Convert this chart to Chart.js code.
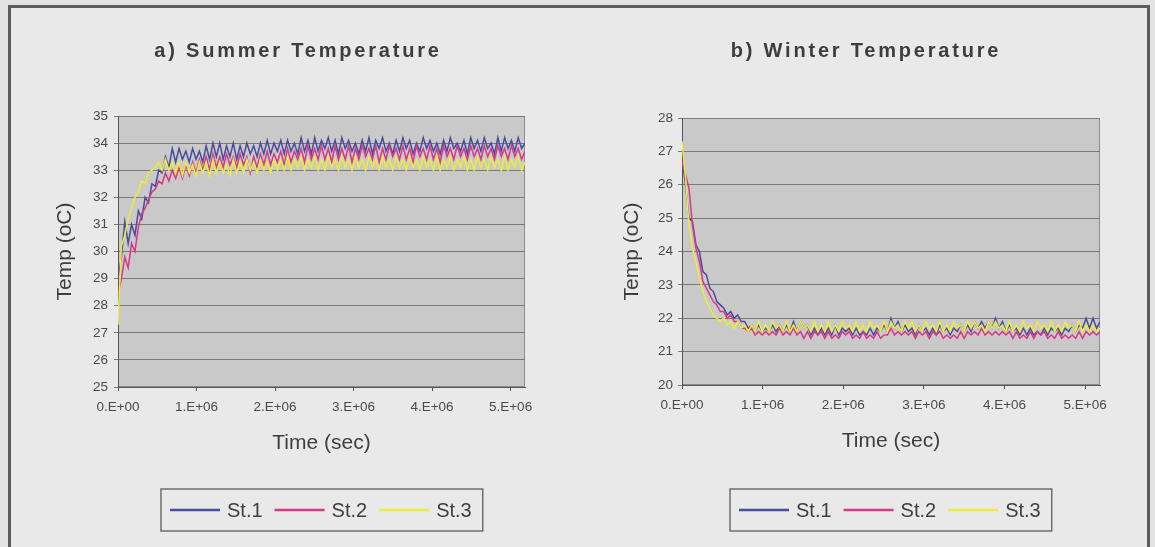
<!DOCTYPE html>
<html>
<head>
<meta charset="utf-8">
<script src="https://cdn.jsdelivr.net/npm/chart.js@4.4.1/dist/chart.umd.min.js"></script>
<style>
  html, body { margin: 0; padding: 0; background: #e3e3e3; }
  body { width: 1155px; height: 547px; position: relative; overflow: hidden; }
  .frame { position: absolute; left: 8px; top: 5px; width: 1136px; height: 600px; border: 3px solid #5c5c5c; background: #e9e9e9; }
  canvas { position: absolute; top: 10px; }
  #summerChart { left: 12px; }
  #winterChart { left: 590px; }
</style>
</head>
<body>
<div class="frame"></div>
<canvas id="summerChart" width="572" height="535"></canvas>
<canvas id="winterChart" width="556" height="535"></canvas>
<script>
// station names and colours
const seriesNames = ['St.1', 'St.2', 'St.3'];
const seriesColors = ['#4b4b9e', '#d8388a', '#ecec3c'];

// sample times (sec), twice a day
const timeSec = [0, 43200, 86400, 129600, 172800, 216000, 259200, 302400, 345600, 388800,
  432000, 475200, 518400, 561600, 604800, 648000, 691200, 734400, 777600, 820800,
  864000, 907200, 950400, 993600, 1036800, 1080000, 1123200, 1166400, 1209600, 1252800,
  1296000, 1339200, 1382400, 1425600, 1468800, 1512000, 1555200, 1598400, 1641600, 1684800,
  1728000, 1771200, 1814400, 1857600, 1900800, 1944000, 1987200, 2030400, 2073600, 2116800,
  2160000, 2203200, 2246400, 2289600, 2332800, 2376000, 2419200, 2462400, 2505600, 2548800,
  2592000, 2635200, 2678400, 2721600, 2764800, 2808000, 2851200, 2894400, 2937600, 2980800,
  3024000, 3067200, 3110400, 3153600, 3196800, 3240000, 3283200, 3326400, 3369600, 3412800,
  3456000, 3499200, 3542400, 3585600, 3628800, 3672000, 3715200, 3758400, 3801600, 3844800,
  3888000, 3931200, 3974400, 4017600, 4060800, 4104000, 4147200, 4190400, 4233600, 4276800,
  4320000, 4363200, 4406400, 4449600, 4492800, 4536000, 4579200, 4622400, 4665600, 4708800,
  4752000, 4795200, 4838400, 4881600, 4924800, 4968000, 5011200, 5054400, 5097600, 5140800,
  5184000];

const xTicks = [0, 1000000, 2000000, 3000000, 4000000, 5000000];
const xTickLabels = ['0.E+00', '1.E+06', '2.E+06', '3.E+06', '4.E+06', '5.E+06'];
const summerTicks = [25, 26, 27, 28, 29, 30, 31, 32, 33, 34, 35];
const winterTicks = [20, 21, 22, 23, 24, 25, 26, 27, 28];

// a) summer
const summerSt1 = [29.0, 29.8, 31.1, 30.3, 31.0, 30.6, 31.5, 31.2, 32.0, 31.8,
  32.5, 32.4, 33.0, 32.9, 33.5, 33.1, 33.8, 33.3, 33.8, 33.4,
  33.7, 33.3, 33.8, 33.4, 33.7, 33.3, 33.9, 33.4, 34.0, 33.5,
  34.0, 33.4, 33.9, 33.5, 34.0, 33.4, 33.9, 33.5, 34.0, 33.6,
  33.9, 33.5, 34.0, 33.6, 34.1, 33.6, 34.0, 33.7, 34.1, 33.6,
  34.1, 33.7, 34.0, 33.6, 34.2, 33.7, 34.1, 33.6, 34.2, 33.7,
  34.1, 33.8, 34.2, 33.7, 34.1, 33.6, 34.2, 33.8, 34.1, 33.7,
  34.0, 33.6, 34.1, 33.7, 34.2, 33.6, 34.1, 33.8, 34.2, 33.7,
  34.0, 33.6, 34.1, 33.7, 34.2, 33.8, 34.1, 33.6, 34.0, 33.7,
  34.2, 33.8, 34.1, 33.7, 34.0, 33.6, 34.1, 33.7, 34.2, 33.8,
  34.0, 33.7, 34.1, 33.6, 34.2, 33.8, 34.1, 33.7, 34.2, 33.8,
  34.0, 33.6, 34.2, 33.7, 34.2, 33.8, 34.1, 33.7, 34.2, 33.8,
  34.0];
const summerSt2 = [28.4, 29.0, 29.8, 29.4, 30.3, 30.0, 30.9, 31.4, 31.6, 31.9,
  32.2, 32.3, 32.6, 32.5, 32.9, 32.6, 33.0, 32.7, 33.1, 32.7,
  33.2, 32.8, 33.3, 32.9, 33.4, 33.0, 33.5, 33.0, 33.6, 33.1,
  33.5, 33.1, 33.6, 33.2, 33.5, 33.1, 33.6, 33.2, 33.5, 32.9,
  33.5, 33.1, 33.6, 33.2, 33.7, 33.2, 33.6, 33.3, 33.7, 33.2,
  33.8, 33.3, 33.7, 33.4, 33.8, 33.3, 33.9, 33.4, 33.8, 33.4,
  33.9, 33.4, 33.8, 33.3, 33.9, 33.4, 33.8, 33.4, 33.9, 33.3,
  33.8, 33.4, 33.9, 33.5, 33.8, 33.4, 33.9, 33.3, 33.8, 33.4,
  33.9, 33.5, 33.8, 33.4, 33.9, 33.4, 33.8, 33.3, 33.9, 33.5,
  33.8, 33.4, 33.9, 33.4, 33.8, 33.3, 33.9, 33.5, 33.8, 33.4,
  33.9, 33.5, 33.8, 33.4, 33.9, 33.5, 33.8, 33.4, 33.9, 33.5,
  33.8, 33.4, 33.9, 33.5, 33.8, 33.4, 33.9, 33.5, 33.8, 33.4,
  33.7];
const summerSt3 = [27.3, 30.2, 30.6, 31.2, 31.6, 32.0, 32.2, 32.6, 32.5, 32.9,
  33.0, 33.1, 33.3, 33.0, 33.4, 33.0, 33.3, 32.9, 33.3, 32.8,
  33.3, 32.9, 33.2, 32.8, 33.3, 32.9, 33.3, 32.8, 33.4, 32.9,
  33.3, 32.9, 33.2, 32.8, 33.4, 32.9, 33.3, 32.9, 33.4, 33.0,
  33.3, 32.9, 33.4, 33.0, 33.3, 32.9, 33.4, 33.0, 33.4, 33.0,
  33.5, 33.0, 33.4, 33.1, 33.5, 33.0, 33.4, 33.1, 33.5, 33.0,
  33.4, 33.0, 33.5, 33.1, 33.4, 33.0, 33.5, 33.1, 33.4, 33.0,
  33.5, 33.1, 33.4, 33.0, 33.5, 33.1, 33.4, 33.0, 33.5, 33.1,
  33.4, 33.0, 33.5, 33.1, 33.4, 33.0, 33.5, 33.1, 33.4, 33.0,
  33.5, 33.1, 33.4, 33.0, 33.5, 33.0, 33.4, 33.1, 33.5, 33.0,
  33.4, 33.1, 33.5, 33.0, 33.4, 33.0, 33.5, 33.1, 33.4, 33.0,
  33.5, 33.1, 33.4, 33.0, 33.5, 33.0, 33.4, 33.1, 33.5, 33.0,
  33.3];

// b) winter
const winterSt1 = [26.8, 26.0, 25.0, 24.9, 24.2, 24.0, 23.4, 23.3, 22.9, 22.8,
  22.5, 22.4, 22.3, 22.1, 22.2, 22.0, 22.1, 21.9, 21.9, 21.7,
  21.8, 21.6, 21.8, 21.6, 21.7, 21.6, 21.8, 21.6, 21.8, 21.6,
  21.8, 21.6, 21.9, 21.6, 21.9, 21.7, 21.8, 21.5, 21.7, 21.5,
  21.7, 21.5, 21.7, 21.5, 21.8, 21.5, 21.7, 21.6, 21.7, 21.5,
  21.7, 21.5, 21.6, 21.5, 21.7, 21.5, 21.7, 21.6, 21.8, 21.6,
  22.0, 21.7, 21.9, 21.6, 21.8, 21.6, 21.7, 21.5, 21.8, 21.6,
  21.7, 21.5, 21.7, 21.5, 21.8, 21.6, 21.7, 21.5, 21.7, 21.6,
  21.8, 21.6, 21.8, 21.6, 21.9, 21.7, 21.9, 21.7, 21.9, 21.7,
  22.0, 21.7, 21.9, 21.6, 21.8, 21.6, 21.7, 21.5, 21.7, 21.5,
  21.7, 21.5, 21.6, 21.5, 21.7, 21.5, 21.7, 21.6, 21.7, 21.5,
  21.7, 21.6, 21.8, 21.6, 21.8, 21.7, 22.0, 21.7, 22.0, 21.7,
  21.9];
const winterSt2 = [26.7, 26.3, 25.9, 24.8, 24.1, 23.7, 23.1, 22.9, 22.7, 22.5,
  22.4, 22.2, 22.2, 22.0, 22.1, 21.9, 21.9, 21.7, 21.7, 21.6,
  21.7, 21.5, 21.6, 21.5, 21.6, 21.5, 21.6, 21.5, 21.7, 21.5,
  21.6, 21.5, 21.7, 21.5, 21.6, 21.4, 21.6, 21.4, 21.6, 21.5,
  21.6, 21.4, 21.6, 21.4, 21.5, 21.4, 21.6, 21.5, 21.6, 21.4,
  21.5, 21.4, 21.6, 21.4, 21.5, 21.4, 21.6, 21.4, 21.5, 21.5,
  21.7, 21.5, 21.6, 21.5, 21.6, 21.5, 21.6, 21.4, 21.6, 21.5,
  21.6, 21.4, 21.6, 21.5, 21.6, 21.4, 21.5, 21.4, 21.5, 21.4,
  21.6, 21.4, 21.6, 21.5, 21.6, 21.5, 21.7, 21.5, 21.6, 21.5,
  21.6, 21.5, 21.6, 21.5, 21.6, 21.4, 21.6, 21.4, 21.5, 21.4,
  21.6, 21.4, 21.6, 21.5, 21.6, 21.4, 21.5, 21.4, 21.6, 21.4,
  21.5, 21.4, 21.5, 21.4, 21.6, 21.4, 21.6, 21.5, 21.6, 21.5,
  21.6];
const winterSt3 = [27.3, 26.2, 24.8, 24.1, 23.7, 23.2, 22.8, 22.5, 22.3, 22.1,
  22.0, 21.9, 22.0, 21.8, 21.9, 21.7, 21.9, 21.7, 21.8, 21.6,
  21.8, 21.6, 21.9, 21.6, 21.8, 21.6, 21.9, 21.7, 21.8, 21.6,
  21.9, 21.6, 21.8, 21.6, 21.9, 21.7, 21.8, 21.6, 21.9, 21.6,
  21.8, 21.6, 21.9, 21.6, 21.8, 21.6, 21.9, 21.7, 21.8, 21.6,
  21.9, 21.6, 21.8, 21.6, 21.9, 21.7, 21.8, 21.6, 21.9, 21.6,
  21.9, 21.7, 21.8, 21.6, 21.9, 21.7, 21.9, 21.6, 21.8, 21.6,
  21.9, 21.7, 21.8, 21.6, 21.9, 21.6, 21.8, 21.6, 21.9, 21.7,
  21.8, 21.6, 21.9, 21.7, 21.9, 21.7, 21.8, 21.6, 21.9, 21.7,
  21.9, 21.7, 21.8, 21.6, 21.9, 21.6, 21.8, 21.6, 21.9, 21.7,
  21.8, 21.6, 21.9, 21.7, 21.8, 21.6, 21.9, 21.6, 21.8, 21.6,
  21.9, 21.7, 21.8, 21.6, 21.9, 21.6, 21.8, 21.6, 21.8, 21.6,
  21.7];

const FONT = '"Liberation Sans", Arial, sans-serif';
const TEXT = '#3e3e3e';

// plot background, title and boxed legend (Excel look)
const decor = {
  id: 'decor',
  beforeDraw(chart) {
    const ctx = chart.ctx, a = chart.chartArea;
    ctx.save();
    ctx.fillStyle = '#c9c9c9';
    ctx.fillRect(a.left, a.top, a.right - a.left, a.bottom - a.top);
    ctx.strokeStyle = '#8c8c8c';
    ctx.lineWidth = 1;
    ctx.strokeRect(a.left + 0.5, a.top + 0.5, a.right - a.left - 1, a.bottom - a.top - 1);
    ctx.restore();
  },
  afterDraw(chart, args, opts) {
    const ctx = chart.ctx, a = chart.chartArea;
    ctx.save();
    ctx.font = 'bold 20px ' + FONT;
    ctx.letterSpacing = '2.8px';
    ctx.fillStyle = TEXT;
    ctx.textAlign = 'center';
    ctx.textBaseline = 'middle';
    ctx.fillText(opts.title, opts.titleX, 41);
    ctx.letterSpacing = '0px';

    ctx.font = '20px ' + FONT;
    const items = chart.data.datasets;
    let w = 9;
    items.forEach(function (d, i) {
      w += 57 + ctx.measureText(d.label).width + (i < items.length - 1 ? 12 : 11);
    });
    const x0 = Math.round((a.left + a.right) / 2 - w / 2);
    const y0 = 479, h = 42, cy = y0 + h / 2;
    ctx.strokeStyle = '#6e6e6e';
    ctx.lineWidth = 1.5;
    ctx.strokeRect(x0, y0, w, h);
    let x = x0 + 9;
    ctx.textAlign = 'left';
    items.forEach(function (d) {
      ctx.strokeStyle = d.borderColor;
      ctx.lineWidth = 2.5;
      ctx.beginPath();
      ctx.moveTo(x, cy);
      ctx.lineTo(x + 50, cy);
      ctx.stroke();
      x += 57;
      ctx.fillStyle = TEXT;
      ctx.fillText(d.label, x, cy + 1);
      x += ctx.measureText(d.label).width + 12;
    });
    ctx.restore();
  }
};

function makeChart(id, title, titleX, series, yTicks, box) {
  const datasets = series.map(function (vals, i) {
    return {
      label: seriesNames[i],
      data: timeSec.map(function (t, k) { return { x: t, y: vals[k] }; }),
      borderColor: seriesColors[i],
      backgroundColor: seriesColors[i],
      borderWidth: 1.5,
      pointRadius: 0,
      tension: 0,
      order: 3 - i
    };
  });
  return new Chart(document.getElementById(id), {
    type: 'line',
    data: { datasets: datasets },
    plugins: [decor],
    options: {
      responsive: false,
      animation: false,
      events: [],
      layout: { padding: { left: 0, right: box.right, top: box.top, bottom: box.bottom } },
      plugins: {
        legend: { display: false },
        tooltip: { enabled: false },
        decor: { title: title, titleX: titleX }
      },
      scales: {
        x: {
          type: 'linear',
          min: 0,
          max: 5184000,
          afterBuildTicks: function (scale) { scale.ticks = xTicks.map(function (v) { return { value: v }; }); },
          afterFit: function (scale) { scale.height = 70; },
          ticks: {
            autoSkip: false,
            maxRotation: 0,
            padding: 8,
            color: '#4a4a4a',
            font: { family: FONT, size: 13.5 },
            callback: function (v, i) { return xTickLabels[i]; }
          },
          grid: { drawOnChartArea: false, drawTicks: true, tickLength: 4, color: '#555' },
          border: { color: '#555', width: 1 },
          title: { display: true, text: 'Time (sec)', color: TEXT, font: { family: FONT, size: 21 }, padding: { top: 0, bottom: 1 } }
        },
        y: {
          min: yTicks[0],
          max: yTicks[yTicks.length - 1],
          afterBuildTicks: function (scale) { scale.ticks = yTicks.map(function (v) { return { value: v }; }); },
          afterFit: function (scale) { scale.width = box.left; },
          ticks: {
            padding: box.tickPad,
            color: '#4a4a4a',
            font: { family: FONT, size: 13.5 },
            callback: function (v) { return String(v); }
          },
          grid: { color: '#7a7a7a', lineWidth: 1, tickLength: 4 },
          border: { color: '#555', width: 1 },
          title: { display: true, text: 'Temp (oC)', color: TEXT, font: { family: FONT, size: 21 }, padding: { top: box.titlePad, bottom: 0 } }
        }
      }
    }
  });
}

makeChart('summerChart', 'a) Summer Temperature', 286,
  [summerSt1, summerSt2, summerSt3], summerTicks,
  { left: 106, right: 59, top: 106, bottom: 88, tickPad: 6, titlePad: 41 });
makeChart('winterChart', 'b) Winter Temperature', 276,
  [winterSt1, winterSt2, winterSt3], winterTicks,
  { left: 92, right: 46, top: 108, bottom: 90, tickPad: 5, titlePad: 30 });
</script>
</body>
</html>
